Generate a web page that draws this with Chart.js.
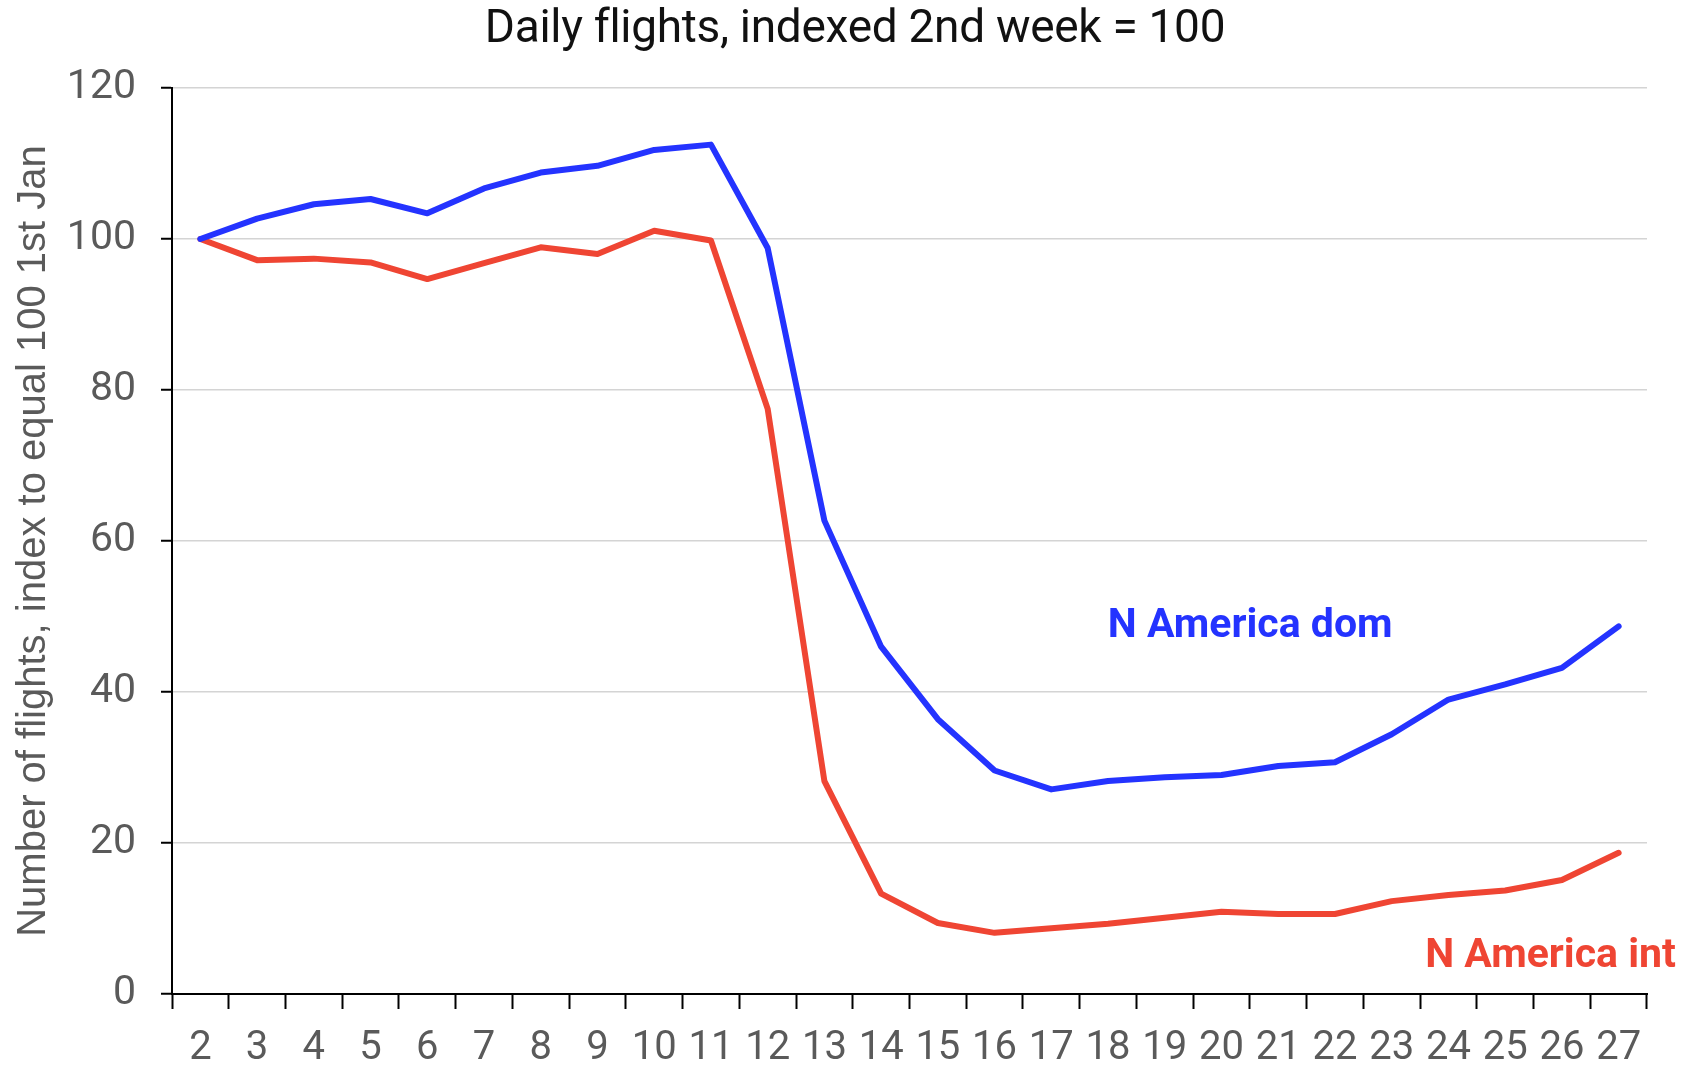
<!DOCTYPE html>
<html>
<head>
<meta charset="utf-8">
<script src="https://cdn.jsdelivr.net/npm/chart.js@4.4.1/dist/chart.umd.min.js"></script>
<style>
html,body{margin:0;padding:0;background:#fff;}
#wrap{width:1683px;height:1067px;position:relative;}
</style>
</head>
<body>
<div id="wrap"><canvas id="c" width="1683" height="1067"></canvas></div>
<script>
const chartTitle = 'Daily flights, indexed 2nd week = 100';
const yAxisTitle = 'Number of flights, index to equal 100 1st Jan';
const categories = ['2','3','4','5','6','7','8','9','10','11','12','13','14','15','16','17','18','19','20','21','22','23','24','25','26','27'];
const domLabel = 'N America dom';
const intLabel = 'N America int';
const domValues = [100, 102.7, 104.6, 105.3, 103.4, 106.7, 108.8, 109.7, 111.8, 112.5, 98.8, 62.7, 46.0, 36.4, 29.6, 27.1, 28.2, 28.7, 29.0, 30.2, 30.7, 34.4, 39.0, 41.0, 43.2, 48.7];
const intValues = [100, 97.2, 97.4, 96.9, 94.7, 96.8, 98.9, 98.0, 101.1, 99.8, 77.5, 28.2, 13.3, 9.4, 8.1, 8.7, 9.3, 10.1, 10.9, 10.6, 10.6, 12.3, 13.1, 13.7, 15.1, 18.7];
const yTicks = [0, 20, 40, 60, 80, 100, 120];

const BLUE = '#2433ff';
const RED = '#ef4533';

const overlay = {
  id: 'overlay',
  afterDraw(chart) {
    const ctx = chart.ctx;
    const xs = chart.scales.x, ys = chart.scales.y;
    ctx.save();
    ctx.fillStyle = '#111';
    ctx.font = '46px Roboto';
    ctx.textAlign = 'center';
    ctx.textBaseline = 'middle';
    try { ctx.letterSpacing = '-0.3px'; } catch(e) {}
    ctx.fillText(chartTitle, 855, 30);
    try { ctx.letterSpacing = '0px'; } catch(e) {}
    ctx.font = 'bold 41px Roboto';
    ctx.textAlign = 'left';
    ctx.fillStyle = BLUE;
    ctx.fillText(domLabel, xs.getPixelForValue(17) - 57, ys.getPixelForValue(48.6));
    ctx.fillStyle = RED;
    ctx.fillText(intLabel, xs.getPixelForValue(23) - 80, ys.getPixelForValue(5.0));
    ctx.restore();
  }
};

new Chart(document.getElementById('c'), {
  type: 'line',
  data: {
    labels: categories,
    datasets: [
      { label: domLabel, data: domValues, borderColor: BLUE, borderWidth: 6, pointRadius: 0, tension: 0, fill: false, borderCapStyle: 'round', borderJoinStyle: 'round' },
      { label: intLabel, data: intValues, borderColor: RED, borderWidth: 6, pointRadius: 0, tension: 0, fill: false, borderCapStyle: 'round', borderJoinStyle: 'round' }
    ]
  },
  options: {
    responsive: false,
    animation: false,
    layout: { padding: { top: 88, right: 36, bottom: 0, left: 0 } },
    plugins: { legend: { display: false }, title: { display: false }, tooltip: { enabled: false } },
    scales: {
      x: {
        offset: true,
        grid: { drawOnChartArea: false, drawTicks: true, tickLength: 15, tickColor: '#000', tickWidth: 2, offset: true },
        border: { color: '#000', width: 2 },
        ticks: { color: '#5a5a5a', font: { family: 'Roboto', size: 40 }, padding: 16, maxRotation: 0, autoSkip: false },
        afterFit(s) { s.height = 73; }
      },
      y: {
        min: 0, max: 120,
        afterBuildTicks(s) { s.ticks = yTicks.map(v => ({ value: v })); },
        grid: { color: '#d4d4d4', lineWidth: 1.5, drawTicks: true, tickLength: 11, tickColor: '#000', tickWidth: 2 },
        border: { color: '#000', width: 2 },
        ticks: { color: '#5a5a5a', font: { family: 'Roboto', size: 41 }, padding: 25 },
        title: { display: true, text: yAxisTitle, color: '#5a5a5a', font: { family: '"Liberation Sans", Arial', size: 40 }, padding: { top: 10, bottom: 0 } },
        afterFit(s) { s.width = 172; }
      }
    }
  },
  plugins: [overlay]
});
</script>
</body>
</html>
